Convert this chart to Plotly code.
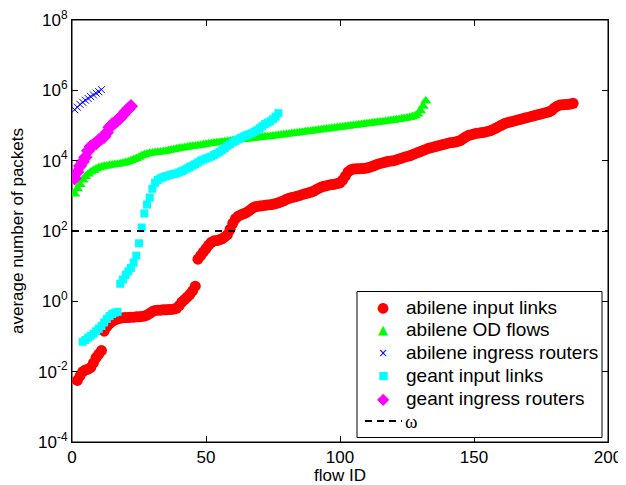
import plotly.graph_objects as go

# log10 of average number of packets
abilene_links_start = 2
abilene_links_log10 = [
    -2.25, -2.12, -2.0, -1.95, -1.93, -1.88, -1.75, -1.6, -1.5, -1.4,
    -0.85, -0.72, -0.63, -0.57, -0.53, -0.5, -0.48, -0.47, -0.46, -0.46,
    -0.45, -0.45, -0.44, -0.44, -0.43, -0.42, -0.39, -0.34, -0.29, -0.26,
    -0.25, -0.25, -0.24, -0.24, -0.23, -0.23, -0.22, -0.2, -0.12, -0.02,
    0.05, 0.12, 0.2, 0.3, 0.43, 1.2, 1.3, 1.4, 1.5, 1.6,
    1.68, 1.72, 1.73, 1.75, 1.78, 1.83, 1.9, 2.05, 2.22, 2.35,
    2.42, 2.46, 2.49, 2.52, 2.57, 2.63, 2.68, 2.7, 2.71, 2.72,
    2.73, 2.74, 2.75, 2.76, 2.78, 2.8, 2.83, 2.86, 2.9, 2.93,
    2.95, 2.97, 2.99, 3.01, 3.04, 3.06, 3.08, 3.1, 3.13, 3.17,
    3.21, 3.25, 3.27, 3.29, 3.31, 3.32, 3.33, 3.35, 3.37, 3.45,
    3.56, 3.68, 3.74, 3.76, 3.77, 3.77, 3.78, 3.78, 3.79, 3.81,
    3.84, 3.87, 3.9, 3.92, 3.94, 3.96, 3.98, 3.99, 4.0, 4.02,
    4.05, 4.07, 4.1, 4.12, 4.14, 4.17, 4.2, 4.23, 4.26, 4.29,
    4.32, 4.35, 4.37, 4.39, 4.41, 4.43, 4.45, 4.47, 4.49, 4.51,
    4.52, 4.53, 4.55, 4.58, 4.63, 4.68, 4.72, 4.74, 4.76, 4.78,
    4.79, 4.8, 4.81, 4.83, 4.85, 4.88, 4.92, 4.96, 5.0, 5.04,
    5.07, 5.09, 5.11, 5.13, 5.15, 5.17, 5.19, 5.21, 5.23, 5.25,
    5.27, 5.29, 5.31, 5.33, 5.35, 5.37, 5.39, 5.43, 5.5, 5.55,
    5.58, 5.59, 5.6, 5.6, 5.61, 5.63,
]

abilene_od_start = 1
abilene_od_log10 = [
    3.05, 3.2, 3.32, 3.45, 3.55, 3.62, 3.68, 3.72, 3.76, 3.8,
    3.82, 3.84, 3.85, 3.87, 3.88, 3.89, 3.9, 3.91, 3.93, 3.95,
    3.97, 4.0, 4.03, 4.06, 4.1, 4.14, 4.17, 4.19, 4.21, 4.22,
    4.23, 4.24, 4.25, 4.26, 4.27, 4.29, 4.3, 4.32, 4.33, 4.35,
    4.36, 4.37, 4.38, 4.4, 4.41, 4.42, 4.43, 4.44, 4.45, 4.47,
    4.48, 4.49, 4.5, 4.51, 4.52, 4.53, 4.54, 4.55, 4.56, 4.57,
    4.58, 4.59, 4.6, 4.6, 4.61, 4.62, 4.63, 4.64, 4.65, 4.66,
    4.67, 4.68, 4.68, 4.69, 4.7, 4.71, 4.72, 4.73, 4.74, 4.75,
    4.76, 4.77, 4.78, 4.79, 4.8, 4.81, 4.82, 4.83, 4.84, 4.85,
    4.86, 4.87, 4.88, 4.89, 4.9, 4.91, 4.92, 4.93, 4.94, 4.95,
    4.96, 4.97, 4.98, 4.99, 5.0, 5.01, 5.02, 5.03, 5.04, 5.05,
    5.06, 5.07, 5.08, 5.09, 5.1, 5.11, 5.12, 5.13, 5.14, 5.15,
    5.16, 5.17, 5.19, 5.2, 5.21, 5.23, 5.25, 5.28, 5.33, 5.42,
    5.55, 5.7,
]

abilene_ingress_start = 1
abilene_ingress_log10 = [5.45, 5.52, 5.6, 5.66, 5.72, 5.77, 5.82, 5.87, 5.92, 5.96, 6.02]

geant_links_start = 4
geant_links_log10 = [
    -1.15, -1.1, -1.03, -0.98, -0.92, -0.85, -0.78, -0.7, -0.6, -0.5,
    -0.42, -0.36, -0.32, -0.3, 0.5, 0.62, 0.75, 0.85, 0.95, 1.1,
    1.3, 1.65, 2.1, 2.5, 2.75, 2.95, 3.2, 3.37, 3.45, 3.5,
    3.53, 3.56, 3.58, 3.6, 3.62, 3.64, 3.67, 3.7, 3.74, 3.78,
    3.82, 3.86, 3.9, 3.95, 4.0, 4.03, 4.06, 4.09, 4.12, 4.16,
    4.2, 4.25, 4.3, 4.36, 4.42, 4.47, 4.52, 4.56, 4.6, 4.65,
    4.69, 4.72, 4.75, 4.78, 4.82, 4.86, 4.92, 4.98, 5.04, 5.08,
    5.12, 5.18, 5.25, 5.35,
]

geant_ingress_start = 1
geant_ingress_log10 = [
    3.5, 3.68, 3.85, 3.97, 4.1, 4.28, 4.4, 4.45, 4.5, 4.58,
    4.63, 4.68, 4.8, 4.95, 5.03, 5.08, 5.15, 5.22, 5.3, 5.4,
    5.47, 5.55,
]

omega = 100
x_ticks = [0, 50, 100, 150, 200]
y_tick_exponents = [-4, -2, 0, 2, 4, 6, 8]

legend_labels = ["abilene input links", "abilene OD flows", "abilene ingress routers",
                 "geant input links", "geant ingress routers", "ω"]
legend_glyphs = ["●", "▲", "×", "■", "◆"]
legend_glyph_sizes = [14, 13, 12, 11, 16]
series_colors = ["#ff0000", "#00ff00", "#0000ff", "#00ffff", "#ff00ff"]

FONT = "Liberation Sans, Arial, Helvetica, sans-serif"

# figure geometry (page body keeps the browser's 8px margin)
W, H = 618, 477
ML, MR, MT, MB = 64, 18, 12, 43
PL = 8 + ML                 # plot left in page pixels
PB = 8 + H - MB             # plot bottom in page pixels
PW = W - ML - MR
PH = H - MT - MB


def px_x(p):
    return (p - PL) / PW


def px_y(p):
    return (PB - p) / PH


def series(start, logs):
    xs = list(range(start, start + len(logs)))
    ys = [10 ** v for v in logs]
    return xs, ys


fig = go.Figure()

x, y = series(abilene_links_start, abilene_links_log10)
fig.add_trace(go.Scatter(x=x, y=y, mode="markers", name=legend_labels[0],
                         marker=dict(symbol="circle", size=11, color=series_colors[0], line=dict(width=0))))
x, y = series(abilene_od_start, abilene_od_log10)
fig.add_trace(go.Scatter(x=x, y=y, mode="markers", name=legend_labels[1],
                         marker=dict(symbol="triangle-up", size=10, color=series_colors[1], line=dict(width=0))))
x, y = series(abilene_ingress_start, abilene_ingress_log10)
fig.add_trace(go.Scatter(x=x, y=y, mode="markers", name=legend_labels[2],
                         marker=dict(symbol="x-thin", size=7, color=series_colors[2],
                                     line=dict(width=1, color=series_colors[2]))))
x, y = series(geant_links_start, geant_links_log10)
fig.add_trace(go.Scatter(x=x, y=y, mode="markers", name=legend_labels[3],
                         marker=dict(symbol="square", size=8, color=series_colors[3], line=dict(width=0))))
x, y = series(geant_ingress_start, geant_ingress_log10)
fig.add_trace(go.Scatter(x=x, y=y, mode="markers", name=legend_labels[4],
                         marker=dict(symbol="diamond", size=11, color=series_colors[4], line=dict(width=0))))
fig.add_trace(go.Scatter(x=[x_ticks[0], x_ticks[-1]], y=[omega, omega], mode="lines",
                         name=legend_labels[5],
                         line=dict(color="black", width=2, dash="7px,6px")))

# axes box, then the legend box drawn like the MATLAB one
shapes = [dict(type="rect", xref="paper", yref="paper", x0=0, x1=1, y0=0, y1=1,
               line=dict(color="black", width=1), layer="below"),
          dict(type="rect", xref="paper", yref="paper",
               x0=px_x(357), x1=px_x(602), y0=px_y(437.5), y1=px_y(291.5),
               fillcolor="white", line=dict(color="black", width=1), layer="above")]
annotations = []
row_centers = [307, 330, 352.5, 375, 398, 421]
for i, label in enumerate(legend_labels):
    yc = px_y(row_centers[i])
    if i < len(legend_glyphs):
        annotations.append(dict(xref="paper", yref="paper", x=px_x(383), y=yc,
                                text=legend_glyphs[i], showarrow=False,
                                xanchor="center", yanchor="middle",
                                font=dict(family="DejaVu Sans", size=legend_glyph_sizes[i],
                                          color=series_colors[i])))
        annotations.append(dict(xref="paper", yref="paper", x=px_x(404), y=yc,
                                text=label, showarrow=False, xanchor="left", yanchor="middle",
                                font=dict(family=FONT, size=19, color="black")))
    else:
        shapes.append(dict(type="line", xref="paper", yref="paper",
                           x0=px_x(365), x1=px_x(402), y0=yc, y1=yc, layer="above",
                           line=dict(color="black", width=2, dash="7px,5px")))
        annotations.append(dict(xref="paper", yref="paper", x=px_x(403), y=yc,
                                text=label, showarrow=False, xanchor="left", yanchor="middle",
                                font=dict(family="Liberation Serif, serif", size=19, color="black")))

fig.update_layout(
    width=W, height=H,
    margin=dict(l=ML, r=MR, t=MT, b=MB),
    paper_bgcolor="white", plot_bgcolor="white",
    font=dict(family=FONT, size=17, color="black"),
    showlegend=False,
    shapes=shapes,
    annotations=annotations,
    xaxis=dict(range=[0, 200], tickvals=x_ticks, ticktext=[str(v) for v in x_ticks],
               automargin=False, ticklabeloverflow="allow",
               showline=True, linecolor="black", linewidth=1, mirror="ticks",
               ticks="inside", ticklen=6, tickcolor="black", showgrid=False, zeroline=False,
               title=dict(text="flow ID", standoff=0, font=dict(size=17))),
    yaxis=dict(type="log", range=[-4, 8], automargin=False, ticklabeloverflow="allow",
               tickvals=[10 ** e for e in y_tick_exponents],
               ticktext=["10<sup>%d</sup>" % e for e in y_tick_exponents],
               showline=True, linecolor="black", linewidth=1, mirror="ticks",
               ticks="inside", ticklen=6, tickcolor="black", showgrid=False, zeroline=False,
               title=dict(text="average number of packets", standoff=11, font=dict(size=17))),
)

fig.write_html("out.html")
